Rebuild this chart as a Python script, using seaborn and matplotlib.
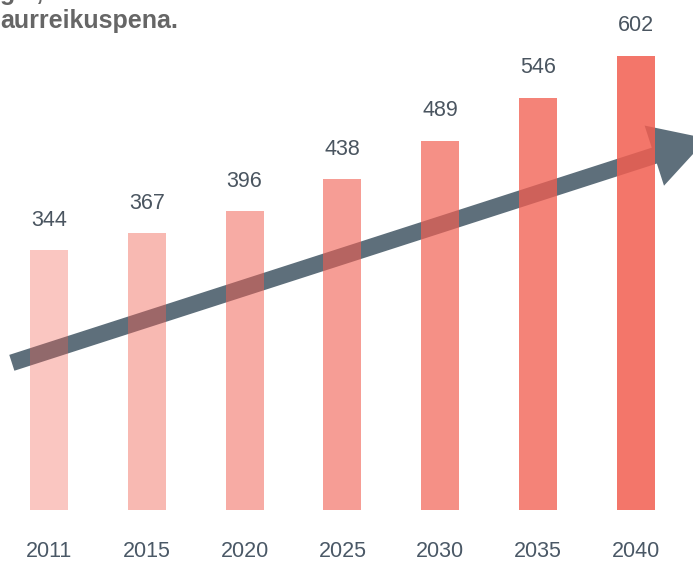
import pandas as pd
import matplotlib.pyplot as plt
import seaborn as sns

# Datuak
urteak = ["2011", "2015", "2020", "2025", "2030", "2035", "2040"]
balioak = [344, 367, 396, 438, 489, 546, 602]
alfak = [0.354, 0.435, 0.516, 0.602, 0.689, 0.770, 0.851]

df = pd.DataFrame({"urtea": urteak, "balioa": balioak})

sns.set_style("white")
plt.rcParams['font.family'] = ['Liberation Sans', 'DejaVu Sans']

fig = plt.figure(figsize=(6.93, 5.62), dpi=100)
ax = fig.add_axes([0, 0.0925, 1, 0.8866])

# Gezia (barren azpian)
ax.annotate("", xy=(6.73, 492), xytext=(-0.38, 195),
            arrowprops=dict(arrowstyle="simple,head_width=45.5,head_length=40,tail_width=12",
                            mutation_scale=1, color="#5e6f7b", shrinkA=0, shrinkB=0, lw=0),
            annotation_clip=False, zorder=0.5)

sns.barplot(data=df, x="urtea", y="balioa", hue="urtea", width=0.39,
            palette=["#f15e50"] * len(urteak), saturation=1, legend=False, ax=ax)

oinarria = (241 / 255, 94 / 255, 80 / 255)
for barra, a in zip(ax.patches, alfak):
    barra.set_facecolor((*oinarria, a))
    barra.set_edgecolor("none")
    barra.set_zorder(1)

for cont in ax.containers:
    ax.bar_label(cont, padding=14, fontsize=15.5, color="#4a5560")

ax.set_xlim(-0.501, 6.585)
ax.set_ylim(0, 660)
ax.set_xlabel("")
ax.set_ylabel("")
ax.set_yticks([])
ax.tick_params(axis="x", length=0, pad=22.5, labelsize=15.5, labelcolor="#4a5866")
sns.despine(ax=ax, left=True, bottom=True)

# Izenburua (moztuta)
fig.text(0, 1.0, "g   ,", fontsize=18, fontweight="bold", color="#666666", va="baseline")
fig.text(0.0, 0.950, "aurreikuspena.", fontsize=18, fontweight="bold", color="#666666", va="baseline")

fig.savefig("out.png", dpi=100)
